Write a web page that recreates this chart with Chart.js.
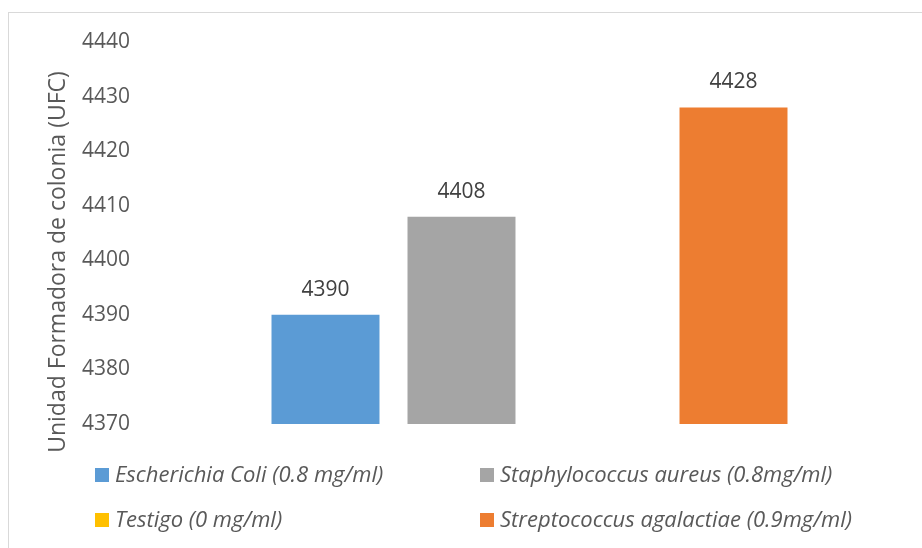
<!DOCTYPE html>
<html>
<head>
<meta charset="utf-8">
<script src="https://cdn.jsdelivr.net/npm/chart.js@4/dist/chart.umd.min.js"></script>
<style>
  html, body { margin: 0; padding: 0; background: #fff; overflow: hidden; }
  #frame { position: absolute; left: 8px; top: 12px; width: 940px; height: 560px;
           border: 1px solid #d9d9d9; box-sizing: border-box; }
  #wrap { position: absolute; left: 0; top: 0; width: 922px; height: 548px; }
</style>
</head>
<body>
<div id="frame"></div>
<div id="wrap"><canvas id="c" width="922" height="548"></canvas></div>
<script>
// Colony-forming units per treatment
const categories = ['UFC'];
const seriesNames = [
  'Escherichia Coli (0.8 mg/ml)',
  'Staphylococcus aureus (0.8mg/ml)',
  'Testigo (0 mg/ml)',
  'Streptococcus agalactiae (0.9mg/ml)'
];
const ecoliValues = [4390];
const staphValues = [4408];
const testigoValues = [null];
const streptoValues = [4428];
const seriesColors = ['#5b9bd5', '#a5a5a5', '#ffc000', '#ed7d31'];
const yTicks = [4370, 4380, 4390, 4400, 4410, 4420, 4430, 4440];
const yTitle = 'Unidad Formadora de colonia (UFC)';

const FONT = "'Open Sans', sans-serif";

// Value labels above each bar
const valueLabels = {
  id: 'valueLabels',
  afterDatasetsDraw(chart) {
    const ctx = chart.ctx;
    ctx.save();
    ctx.font = '21px ' + FONT;
    ctx.fillStyle = '#404040';
    ctx.textAlign = 'center';
    ctx.textBaseline = 'middle';
    chart.data.datasets.forEach((ds, i) => {
      const meta = chart.getDatasetMeta(i);
      meta.data.forEach((bar, j) => {
        const v = ds.data[j];
        if (v === null || v === undefined) return;
        ctx.fillText(String(v), bar.x, bar.y - 25);
      });
    });
    ctx.restore();
  }
};

// Rotated axis title on the left
const axisTitle = {
  id: 'axisTitle',
  afterDraw(chart) {
    const ctx = chart.ctx;
    ctx.save();
    ctx.translate(65, 262);
    ctx.rotate(-Math.PI / 2);
    ctx.font = '23px ' + FONT;
    ctx.fillStyle = '#595959';
    ctx.textAlign = 'center';
    ctx.textBaseline = 'alphabetic';
    ctx.fillText(yTitle, 0, 0);
    ctx.restore();
  }
};

// Two-column legend under the plot
const gridLegend = {
  id: 'gridLegend',
  afterDraw(chart) {
    const ctx = chart.ctx;
    const cols = [95, 480];
    const rows = [475, 520];
    ctx.save();
    ctx.font = 'italic 22px ' + FONT;
    ctx.textBaseline = 'middle';
    ctx.textAlign = 'left';
    chart.data.datasets.forEach((ds, i) => {
      const x = cols[i % 2];
      const y = rows[Math.floor(i / 2)];
      ctx.fillStyle = ds.backgroundColor;
      ctx.fillRect(x, y - 7, 14, 14);
      ctx.fillStyle = '#595959';
      ctx.fillText(ds.label, x + 20, y + 1);
    });
    ctx.restore();
  }
};

new Chart(document.getElementById('c'), {
  type: 'bar',
  data: {
    labels: categories,
    datasets: [
      { label: seriesNames[0], data: ecoliValues, backgroundColor: seriesColors[0] },
      { label: seriesNames[1], data: staphValues, backgroundColor: seriesColors[1] },
      { label: seriesNames[2], data: testigoValues, backgroundColor: seriesColors[2] },
      { label: seriesNames[3], data: streptoValues, backgroundColor: seriesColors[3] }
    ]
  },
  options: {
    responsive: false,
    animation: false,
    devicePixelRatio: 1,
    categoryPercentage: 0.693,
    barPercentage: 0.794,
    layout: { padding: { left: 37, right: 0, top: 42, bottom: 124 } },
    plugins: {
      legend: { display: false },
      tooltip: { enabled: false }
    },
    scales: {
      x: { display: false },
      y: {
        min: 4370,
        max: 4440,
        afterFit(scale) { scale.width = 100; },
        afterBuildTicks(scale) { scale.ticks = yTicks.map(v => ({ value: v })); },
        grid: { display: false, drawTicks: false },
        border: { display: false },
        ticks: {
          padding: 7,
          color: '#595959',
          font: { family: FONT, size: 21 },
          callback: (v) => String(v)
        },
        title: { display: false }
      }
    }
  },
  plugins: [valueLabels, axisTitle, gridLegend]
});
</script>
</body>
</html>
